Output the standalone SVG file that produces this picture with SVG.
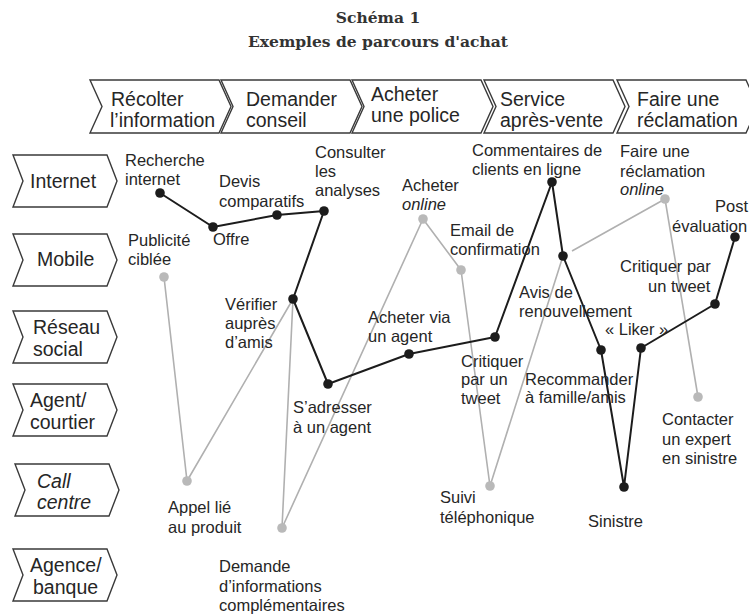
<svg xmlns="http://www.w3.org/2000/svg" width="749" height="614" viewBox="0 0 749 614">
  <style>
    .chev { fill: #ffffff; stroke: #3a3a3a; stroke-width: 1.4; stroke-linejoin: miter; }
    .hd { font-family: "Liberation Sans", Arial, sans-serif; font-size: 19.5px; fill: #262626; }
    .lbl { font-family: "Liberation Sans", Arial, sans-serif; font-size: 16.5px; fill: #262626; }
    .ttl { font-family: "DejaVu Serif", "Liberation Serif", serif; font-size: 15.5px; font-weight: bold; fill: #333333; text-anchor: middle; }
    .it { font-style: italic; }
    .blk { fill: none; stroke: #1c1c1c; stroke-width: 2; stroke-linejoin: round; }
    .gry { fill: none; stroke: #b0b0b0; stroke-width: 1.6; stroke-linejoin: round; }
    .db { fill: #1c1c1c; }
    .dg { fill: #b9b9b9; }
  </style>
  <defs>
    <!-- stage chevron, 129 wide + 12 point, 53 tall -->
    <path id="stage" d="M0,0 H129 L141,26.5 L129,53 H0 L12,26.5 Z"/>
    <!-- channel chevron -->
    <path id="channel" d="M0,0 H94 L104,26 L94,52 H0 L10,26 Z"/>
  </defs>

  <rect width="749" height="614" fill="#ffffff"/>

  <!-- title -->
  <g id="title">
    <text class="ttl" x="378" y="23">Schéma 1</text>
    <text class="ttl" x="378" y="47">Exemples de parcours d'achat</text>
  </g>

  <!-- stages (top row) -->
  <g id="stage-recolter">
    <use href="#stage" class="chev" x="90" y="80"/>
    <text class="hd" x="111" y="106">Récolter</text>
    <text class="hd" x="110" y="127">l’information</text>
  </g>
  <g id="stage-demander">
    <use href="#stage" class="chev" x="221" y="80"/>
    <text class="hd" x="246" y="106">Demander</text>
    <text class="hd" x="246" y="127">conseil</text>
  </g>
  <g id="stage-acheter">
    <use href="#stage" class="chev" x="352" y="80"/>
    <text class="hd" x="371" y="101">Acheter</text>
    <text class="hd" x="371" y="122">une police</text>
  </g>
  <g id="stage-service">
    <use href="#stage" class="chev" x="484" y="80"/>
    <text class="hd" x="500" y="106">Service</text>
    <text class="hd" x="500" y="127">après-vente</text>
  </g>
  <g id="stage-reclamation">
    <use href="#stage" class="chev" x="617" y="80"/>
    <text class="hd" x="637" y="106">Faire une</text>
    <text class="hd" x="637" y="127">réclamation</text>
  </g>

  <!-- channels (left column) -->
  <g id="ch-internet">
    <use href="#channel" class="chev" x="13" y="155"/>
    <text class="hd" x="30" y="188">Internet</text>
  </g>
  <g id="ch-mobile">
    <use href="#channel" class="chev" x="13" y="234"/>
    <text class="hd" x="37" y="266">Mobile</text>
  </g>
  <g id="ch-reseau">
    <use href="#channel" class="chev" x="13" y="311"/>
    <text class="hd" x="33" y="334">Réseau</text>
    <text class="hd" x="33" y="356">social</text>
  </g>
  <g id="ch-agent">
    <use href="#channel" class="chev" x="13" y="384"/>
    <text class="hd" x="30" y="407">Agent/</text>
    <text class="hd" x="30" y="429">courtier</text>
  </g>
  <g id="ch-call">
    <use href="#channel" class="chev" x="15" y="464"/>
    <text class="hd it" x="37" y="488">Call</text>
    <text class="hd it" x="37" y="509">centre</text>
  </g>
  <g id="ch-agence">
    <use href="#channel" class="chev" x="13" y="549"/>
    <text class="hd" x="30" y="572">Agence/</text>
    <text class="hd" x="33" y="594">banque</text>
  </g>

  <!-- journeys -->
  <g id="connectors">
    <polyline class="gry" points="164,277 187,481 293,299 282,528 423,219 461,270 490,486 563,256"/>
    <polyline class="gry" points="572,251 665,199 698,397"/>
    <polyline class="blk" points="160,193 213,227 277,215 324,211 293,299 328,384 409,354 495,337 552,182 563,256 601,350 624,487 641,348 715,304 735,237"/>
  </g>

  <!-- touchpoints -->
  <g id="n-recherche">
    <circle class="db" cx="160" cy="193" r="4.8"/>
    <text class="lbl" x="125" y="166">Recherche</text>
    <text class="lbl" x="125" y="185">internet</text>
  </g>
  <g id="n-offre">
    <circle class="db" cx="213" cy="227" r="4.8"/>
    <text class="lbl" x="213" y="245">Offre</text>
  </g>
  <g id="n-devis">
    <circle class="db" cx="277" cy="215" r="4.8"/>
    <text class="lbl" x="219" y="187">Devis</text>
    <text class="lbl" x="219" y="207">comparatifs</text>
  </g>
  <g id="n-consulter">
    <circle class="db" cx="324" cy="211" r="4.8"/>
    <text class="lbl" x="315" y="158">Consulter</text>
    <text class="lbl" x="315" y="177">les</text>
    <text class="lbl" x="315" y="196">analyses</text>
  </g>
  <g id="n-publicite">
    <circle class="dg" cx="164" cy="277" r="4.8"/>
    <text class="lbl" x="128" y="246">Publicité</text>
    <text class="lbl" x="128" y="265">ciblée</text>
  </g>
  <g id="n-verifier">
    <circle class="db" cx="293" cy="299" r="4.8"/>
    <text class="lbl" x="225" y="310">Vérifier</text>
    <text class="lbl" x="225" y="329">auprès</text>
    <text class="lbl" x="225" y="348">d’amis</text>
  </g>
  <g id="n-appel">
    <circle class="dg" cx="187" cy="481" r="4.8"/>
    <text class="lbl" x="168" y="513">Appel lié</text>
    <text class="lbl" x="168" y="533">au produit</text>
  </g>
  <g id="n-demande">
    <circle class="dg" cx="282" cy="528" r="4.8"/>
    <text class="lbl" x="219" y="572">Demande</text>
    <text class="lbl" x="219" y="592">d’informations</text>
    <text class="lbl" x="219" y="611">complémentaires</text>
  </g>
  <g id="n-adresser">
    <circle class="db" cx="328" cy="384" r="4.8"/>
    <text class="lbl" x="293" y="413">S’adresser</text>
    <text class="lbl" x="293" y="433">à un agent</text>
  </g>
  <g id="n-acheter-online">
    <circle class="dg" cx="423" cy="219" r="4.8"/>
    <text class="lbl" x="402" y="191">Acheter</text>
    <text class="lbl it" x="402" y="210">online</text>
  </g>
  <g id="n-email">
    <circle class="dg" cx="461" cy="270" r="4.8"/>
    <text class="lbl" x="450" y="236">Email de</text>
    <text class="lbl" x="450" y="255">confirmation</text>
  </g>
  <g id="n-acheter-agent">
    <circle class="db" cx="409" cy="354" r="4.8"/>
    <text class="lbl" x="368" y="323">Acheter via</text>
    <text class="lbl" x="368" y="342">un agent</text>
  </g>
  <g id="n-critiquer1">
    <circle class="db" cx="495" cy="337" r="4.8"/>
    <text class="lbl" x="461" y="367">Critiquer</text>
    <text class="lbl" x="461" y="385">par un</text>
    <text class="lbl" x="461" y="404">tweet</text>
  </g>
  <g id="n-suivi">
    <circle class="dg" cx="490" cy="486" r="4.8"/>
    <text class="lbl" x="440" y="503">Suivi</text>
    <text class="lbl" x="440" y="523">téléphonique</text>
  </g>
  <g id="n-commentaires">
    <circle class="db" cx="552" cy="182" r="4.8"/>
    <text class="lbl" x="472" y="156">Commentaires de</text>
    <text class="lbl" x="472" y="175">clients en ligne</text>
  </g>
  <g id="n-avis">
    <circle class="db" cx="563" cy="256" r="4.8"/>
    <text class="lbl" x="519" y="298">Avis de</text>
    <text class="lbl" x="519" y="317">renouvellement</text>
  </g>
  <g id="n-recommander">
    <circle class="db" cx="601" cy="350" r="4.8"/>
    <text class="lbl" x="525" y="385">Recommander</text>
    <text class="lbl" x="525" y="403">à famille/amis</text>
  </g>
  <g id="n-sinistre">
    <circle class="db" cx="624" cy="487" r="4.8"/>
    <text class="lbl" x="588" y="527">Sinistre</text>
  </g>
  <g id="n-liker">
    <circle class="db" cx="641" cy="348" r="4.8"/>
    <text class="lbl" x="605" y="335">« Liker »</text>
  </g>
  <g id="n-critiquer2">
    <circle class="db" cx="715" cy="304" r="4.8"/>
    <text class="lbl" x="620" y="272">Critiquer par</text>
    <text class="lbl" x="648" y="292">un tweet</text>
  </g>
  <g id="n-post">
    <text class="lbl" x="715" y="212">Post</text>
    <text class="lbl" x="672" y="232">évaluation</text>
    <circle class="db" cx="735" cy="237" r="4.8"/>
  </g>
  <g id="n-reclamation">
    <circle class="dg" cx="665" cy="199" r="4.8"/>
    <text class="lbl" x="620" y="157">Faire une</text>
    <text class="lbl" x="620" y="177">réclamation</text>
    <text class="lbl it" x="620" y="195">online</text>
  </g>
  <g id="n-expert">
    <circle class="dg" cx="698" cy="397" r="4.8"/>
    <text class="lbl" x="662" y="425">Contacter</text>
    <text class="lbl" x="662" y="445">un expert</text>
    <text class="lbl" x="662" y="464">en sinistre</text>
  </g>
</svg>
